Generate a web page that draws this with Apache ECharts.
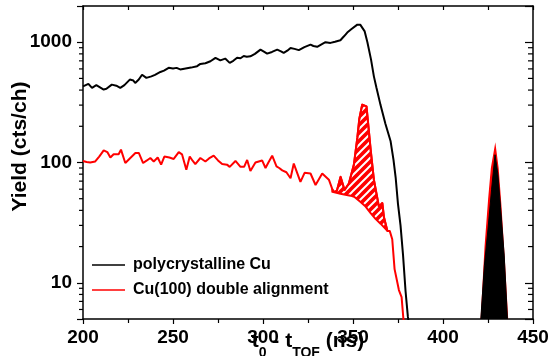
<!DOCTYPE html>
<html><head><meta charset="utf-8">
<script src="https://cdn.jsdelivr.net/npm/echarts@6/dist/echarts.min.js"></script>
<style>html,body{margin:0;padding:0;background:#fff}#c{width:548px;height:356px}</style>
</head><body><div id="c"></div>
<script>
const X_MIN = 200, X_MAX = 450, Y_MIN = 5, Y_MAX = 2000;
const xTickLabels = [200, 250, 300, 350, 400, 450];
const yTickLabels = [10, 100, 1000];
const yMinorTicks = [6,7,8,9,20,30,40,50,60,70,80,90,200,300,400,500,600,700,800,900];

// polycrystalline Cu
const blackT = [200,203,205,207.4,209,211.5,213,216,218.5,220.7,223,226,228,229,231,232.8,235.2,238,240,243,245,247.6,250,252,254,257,260,263.4,265.2,268,270.8,273.6,276.3,279,281.5,283.5,285.6,287.5,289.3,291,293,295.5,298.6,300.5,302.3,305,307.9,310,311.5,313.5,315.3,317.5,319.9,323,326.4,328,330.1,332.5,334.7,337.5,340,343,345,346.8,349,352.4,354,355.1,356.5,358,360,361.6,363,365.3,368,370.9,372.5,373.7,375,376.4,377.8,379.2,380.5,381.2];
const blackY = [430,450,417,439,425,404,410,444,435,417,440,489,480,458,490,537,505,520,535,566,580,613,605,612,594,605,615,632,660,668,695,742,707,731,673,700,742,735,768,758,763,800,867,835,804,830,867,840,814,850,896,880,860,910,955,930,916,960,1000,987,1010,1039,1120,1203,1280,1400,1400,1358,1230,1000,720,520,420,300,210,150,105,75,45,30,17,8.5,5.2,4.5];

// Cu(100) double alignment
const redT = [200,202,204,206.8,209,211.5,213.5,215.2,217,219.8,221.1,223.5,226,229.1,231,233.4,235.5,237.4,239.3,241.5,243.4,245.2,248,250.4,253.2,255,257.4,259.3,261,262.4,265.2,268,270,272.6,275,277.3,280,281.5,284.7,287.5,289.5,291.2,293,295.8,299.5,301.4,303,305.1,307.5,309,310.7,313,315.3,317.1,320.8,323.1,326.4,329.2,332.9,336.6,338.5,339.3,341,343.1,345.3,347.7,350.5,352.4,353.5,355.1,357.5,359.8,361.6,364.4,366.3,367.2,369.1,370.4,371.8,373.1,375.5,377,378,378.5];
const redY = [103,101,100,102,112,126,122,110,117,117,128,99,108,120,120,99,104,109,102,110,96,112,110,107,122,117,87,112,103,97,109,102,108,114,104,97,96,92,103,92,92,105,85,100,104,90,100,114,93,90,86,83,74,98,69,82,81,65,81,72,60,57,58,76,59,67,96,160,230,303,293,128,72,43,46,35,27,27,23,13,8.7,7.6,5,4.5];

// lower edge of the hatched region
const hatchLowT = [338.5,343,348.6,351,354.2,357,359.8,362.5,365.3,369.1];
const hatchLowY = [57,55,53,51.5,47,43,38,34,31,27];

// peaks near 430 ns
const redPeakT = [421.3,423.5,425.5,427,429,430.5,432,434,435.8];
const redPeakY = [5,20,50,90,134,90,45,15,5];
const blackPeakT = [421,423,425,427,428.9,430.5,432,434,435.8];
const blackPeakY = [5,14,28,60,116,80,42,17,5];

const FONT = "'Liberation Sans', Arial, Helvetica, sans-serif";

// hatch pattern
const pc = document.createElement('canvas'); pc.width = 8; pc.height = 8;
const g = pc.getContext('2d');
g.fillStyle = '#ff0000'; g.fillRect(0, 0, 8, 8);
g.strokeStyle = '#ffffff'; g.lineWidth = 2;
g.beginPath();
g.moveTo(0, 8); g.lineTo(8, 0);
g.moveTo(-4, 4); g.lineTo(4, -4);
g.moveTo(4, 12); g.lineTo(12, 4);
g.stroke();

const pairs = (T, Y) => T.map((t, i) => [t, Y[i]]);

const chart = echarts.init(document.getElementById('c'), null, {renderer: 'canvas'});

function polyItem(T, Y, style) {
  return function (params, api) {
    if (params.dataIndex !== 0) return null;
    const pts = T.map((t, i) => api.coord([t, Y[i]]));
    return {type: 'polygon', shape: {points: pts}, style: style};
  };
}

function hatchItem(params, api) {
  if (params.dataIndex !== 0) return null;
  const t0 = hatchLowT[0], t1 = hatchLowT[hatchLowT.length - 1];
  const pts = [];
  redT.forEach((t, i) => { if (t >= t0 && t <= t1) pts.push(api.coord([t, redY[i]])); });
  for (let i = hatchLowT.length - 1; i >= 0; i--) pts.push(api.coord([hatchLowT[i], hatchLowY[i]]));
  return {type: 'polygon', shape: {points: pts},
    style: {fill: {image: pc, repeat: 'repeat'}, stroke: '#ff0000', lineWidth: 2, lineJoin: 'round'}};
}

function minorTickItem(params, api) {
  const v = api.value(1);
  const pl = api.coord([X_MIN, v]);
  const pr = api.coord([X_MAX, v]);
  return {type: 'group', children: [
    {type: 'line', shape: {x1: pl[0] - 4, y1: pl[1], x2: pl[0], y2: pl[1]}, style: {stroke: '#000', lineWidth: 1.2}},
    {type: 'line', shape: {x1: pr[0] - 5, y1: pr[1], x2: pr[0], y2: pr[1]}, style: {stroke: '#000', lineWidth: 1.2}}
  ]};
}

const axisLine = {show: true, lineStyle: {color: '#000', width: 1.5}};

chart.setOption({
  animation: false,
  backgroundColor: '#fff',
  grid: {left: 83, right: 15, top: 6, bottom: 37, containLabel: false, outerBoundsMode: 'none'},
  legend: {
    data: ['polycrystalline Cu', 'Cu(100) double alignment'],
    orient: 'vertical', left: 92, top: 257, itemGap: 9, padding: 0,
    icon: 'rect', itemWidth: 33, itemHeight: 1.5,
    textStyle: {fontSize: 16, fontWeight: 'bold', color: '#000', fontFamily: FONT, padding: [0, 0, 0, 3]}
  },
  xAxis: [{
    type: 'value', min: X_MIN, max: X_MAX, interval: 50, position: 'bottom',
    axisLine: axisLine,
    axisTick: {show: true, inside: false, length: 5, lineStyle: {color: '#000', width: 1.2}},
    minorTick: {show: true, splitNumber: 2, length: 4, lineStyle: {color: '#000', width: 1.2}},
    splitLine: {show: false},
    axisLabel: {fontSize: 19, fontWeight: 'bold', color: '#000', fontFamily: FONT, margin: 9,
      formatter: v => xTickLabels.includes(v) ? String(v) : ''},
    name: '{a|t}{b|0}{a| - t}{b|TOF}{a| (ns)}',
    nameLocation: 'middle', nameGap: 4, nameMoveOverlap: false,
    nameTextStyle: {color: '#000', padding: [0, 0, 0, 0], rich: {
      a: {fontSize: 21, fontWeight: 'bold', fontFamily: FONT, color: '#000', lineHeight: 24},
      b: {fontSize: 14, fontWeight: 'bold', fontFamily: FONT, color: '#000', lineHeight: 37, verticalAlign: 'bottom'}
    }}
  }, {
    type: 'value', min: X_MIN, max: X_MAX, interval: 25, position: 'top',
    axisLine: axisLine,
    axisTick: {show: true, inside: true, length: 4, lineStyle: {color: '#000', width: 1.2}},
    axisLabel: {show: false}, splitLine: {show: false}
  }],
  yAxis: [{
    type: 'log', logBase: 10, min: Y_MIN, max: Y_MAX, position: 'left',
    axisLine: axisLine,
    axisTick: {show: true, inside: false, length: 6, lineStyle: {color: '#000', width: 1.2}},
    splitLine: {show: false},
    axisLabel: {fontSize: 19, fontWeight: 'bold', color: '#000', fontFamily: FONT, margin: 11,
      formatter: v => yTickLabels.includes(Math.round(v)) ? String(Math.round(v)) : ''},
    name: 'Yield (cts/ch)', nameLocation: 'middle', nameRotate: 90, nameGap: 52, nameMoveOverlap: false,
    nameTextStyle: {fontSize: 21, fontWeight: 'bold', color: '#000', fontFamily: FONT, padding: [0, 0, 0, 32]}
  }, {
    type: 'log', logBase: 10, min: Y_MIN, max: Y_MAX, position: 'right',
    axisLine: axisLine,
    axisTick: {show: true, inside: true, length: 8, lineStyle: {color: '#000', width: 1.2}},
    axisLabel: {show: false}, splitLine: {show: false}
  }],
  series: [
    {type: 'custom', name: 'hatch', data: [[hatchLowT[0], hatchLowY[0]]], renderItem: hatchItem, clip: true, silent: true, z: 2},
    {type: 'line', name: 'Cu(100) double alignment', data: pairs(redT, redY), symbol: 'none',
      lineStyle: {color: '#ff0000', width: 2}, itemStyle: {color: '#ff0000'}, z: 3},
    {type: 'line', name: 'polycrystalline Cu', data: pairs(blackT, blackY), symbol: 'none',
      lineStyle: {color: '#000', width: 2}, itemStyle: {color: '#000'}, z: 4},
    {type: 'custom', name: 'redPeak', data: [[redPeakT[0], redPeakY[0]]], clip: true, silent: true, z: 3,
      renderItem: polyItem(redPeakT, redPeakY, {fill: '#ff0000', stroke: '#ff0000', lineWidth: 1.5})},
    {type: 'custom', name: 'blackPeak', data: [[blackPeakT[0], blackPeakY[0]]], clip: true, silent: true, z: 4,
      renderItem: polyItem(blackPeakT, blackPeakY, {fill: '#000', stroke: '#000', lineWidth: 1})},
    {type: 'custom', name: 'minorTicks', data: yMinorTicks.map(v => [X_MIN, v]), clip: false, silent: true, z: 5,
      renderItem: minorTickItem}
  ]
});
</script>
</body></html>
